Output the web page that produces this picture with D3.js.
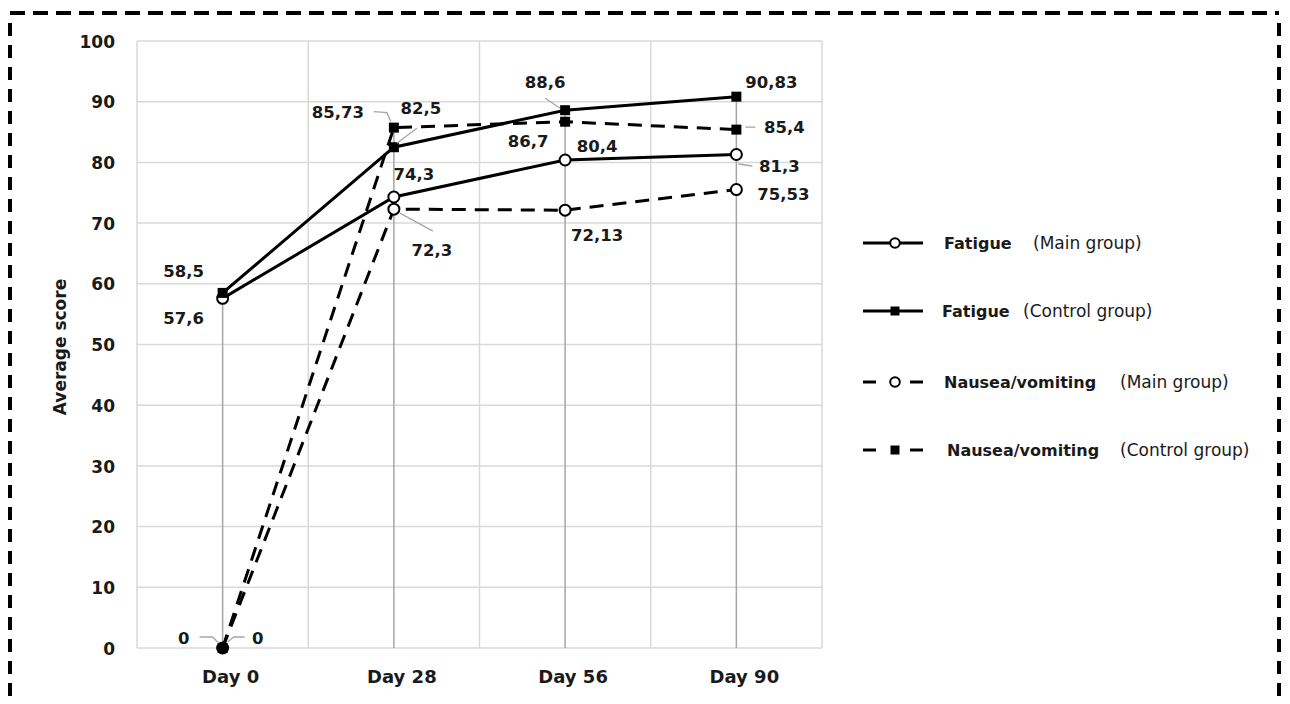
<!DOCTYPE html>
<html>
<head>
<meta charset="utf-8">
<script src="https://cdn.jsdelivr.net/npm/d3@7"></script>
<style>
  html, body { margin: 0; padding: 0; background: #fff; }
  svg { display: block; }
  text { font-family: "DejaVu Sans", sans-serif; fill: #1a1a1a; }
</style>
</head>
<body>
<svg id="chart" width="1290" height="704"></svg>
<script>
// Symptom scores over the follow-up period
const categories = ["Day 0", "Day 28", "Day 56", "Day 90"];
const fatigueMain = [57.6, 74.3, 80.4, 81.3];
const fatigueControl = [58.5, 82.5, 88.6, 90.83];
const nauseaMain = [0, 72.3, 72.13, 75.53];
const nauseaControl = [0, 85.73, 86.7, 85.4];
const yTicks = [0, 10, 20, 30, 40, 50, 60, 70, 80, 90, 100];
const yTitle = "Average score";
const seriesNames = ["Fatigue", "Fatigue", "Nausea/vomiting", "Nausea/vomiting"];
const groupNames = ["(Main group)", "(Control group)", "(Main group)", "(Control group)"];

// Label offsets (dx, dy from the point) and optional leader polylines
const labelLayout = [
  [ {dx:-39, dy:20}, {dx:20, dy:-22}, {dx:32, dy:-13}, {dx:43, dy:12, lead:[[2,9.5],[16,11.5]]} ],
  [ {dx:-39, dy:-21}, {dx:27, dy:-39, lead:[[3,-4],[23,-19]]}, {dx:-20, dy:-28, lead:[[-20,-12],[-5,-2]]}, {dx:35, dy:-14} ],
  [ {dx:35, dy:-10, lead:[[22,-11],[11,-11],[5,-6]]}, {dx:38, dy:41, lead:[[6,4],[39,22]]}, {dx:32, dy:25}, {dx:47, dy:5} ],
  [ {dx:-39, dy:-10, lead:[[-23,-11],[-10,-11],[-4,-5]]}, {dx:-56, dy:-15, lead:[[-20,-16],[-7,-15],[-3,-6]]}, {dx:-37, dy:20}, {dx:48, dy:-2, lead:[[9,-2.5],[19,-2.5]]} ]
];

const series = [
  { values: fatigueMain,    dashed: false, marker: "circle" },
  { values: fatigueControl, dashed: false, marker: "square" },
  { values: nauseaMain,     dashed: true,  marker: "circle" },
  { values: nauseaControl,  dashed: true,  marker: "square" }
];

const svg = d3.select("#chart");
const plot = { left: 137, right: 822, top: 41, bottom: 648 };

const x = d3.scaleBand().domain(categories).range([plot.left, plot.right]);
const cx = c => x(c) + x.bandwidth() / 2;
const y = d3.scaleLinear().domain([0, 100]).range([plot.bottom, plot.top]);

// Dashed frame around the figure
const frame = svg.append("g").attr("stroke", "#000").attr("stroke-width", 4).attr("fill", "none");
frame.append("line").attr("x1", 10).attr("x2", 1279).attr("y1", 13).attr("y2", 13).attr("stroke-dasharray", "15,8");
frame.append("line").attr("x1", 10).attr("x2", 10).attr("y1", 23).attr("y2", 720).attr("stroke-dasharray", "13,9");
frame.append("line").attr("x1", 1279).attr("x2", 1279).attr("y1", 23).attr("y2", 720).attr("stroke-dasharray", "13,9");

// Horizontal gridlines
svg.append("g").selectAll("line").data(yTicks).join("line")
  .attr("x1", plot.left).attr("x2", plot.right)
  .attr("y1", d => y(d)).attr("y2", d => y(d))
  .attr("stroke", "#d9d9d9").attr("stroke-width", 1.5);

// Vertical gridlines at category boundaries
const bounds = categories.map(c => x(c)).concat([plot.right]);
svg.append("g").selectAll("line").data(bounds).join("line")
  .attr("x1", d => d).attr("x2", d => d)
  .attr("y1", plot.top).attr("y2", plot.bottom)
  .attr("stroke", "#d9d9d9").attr("stroke-width", 1.5);

// Y axis tick labels
const yAxis = d3.axisLeft(y).tickValues(yTicks).tickSize(0).tickPadding(0);
const yg = svg.append("g").attr("transform", `translate(115,0)`).call(yAxis);
yg.select(".domain").remove();
yg.selectAll("text").attr("font-family", "DejaVu Sans").attr("font-weight", "bold")
  .attr("font-size", 17).attr("fill", "#1a1a1a").attr("dy", "0.36em");

// X axis category labels
const xAxis = d3.axisBottom(x).tickSize(0).tickPadding(0);
const xg = svg.append("g").attr("transform", `translate(8,677)`).call(xAxis);
xg.select(".domain").remove();
xg.selectAll("text").attr("font-family", "DejaVu Sans").attr("font-weight", "bold")
  .attr("font-size", 18).attr("fill", "#1a1a1a").attr("dy", "0.36em");

// Y axis title
svg.append("text")
  .attr("transform", "translate(60,347) rotate(-90)")
  .attr("text-anchor", "middle").attr("dominant-baseline", "central")
  .attr("font-weight", "bold").attr("font-size", 17)
  .text(yTitle);

// Drop lines from the highest point of each category
svg.append("g").selectAll("line").data(categories).join("line")
  .attr("x1", c => cx(c)).attr("x2", c => cx(c))
  .attr("y1", (c, i) => y(d3.max(series, s => s.values[i])))
  .attr("y2", plot.bottom)
  .attr("stroke", "#a6a6a6").attr("stroke-width", 1.5);

// Series lines
const line = d3.line().x((d, i) => cx(categories[i])).y(d => y(d));
svg.append("g").selectAll("path").data(series).join("path")
  .attr("d", s => line(s.values))
  .attr("fill", "none").attr("stroke", "#000").attr("stroke-width", 3)
  .attr("stroke-dasharray", s => s.dashed ? "14,9" : null);

// Markers
function drawMarker(g, type, px, py, size) {
  if (type === "circle") {
    g.append("circle").attr("cx", px).attr("cy", py).attr("r", size)
      .attr("fill", "#fff").attr("stroke", "#000").attr("stroke-width", 2);
  } else {
    g.append("rect").attr("x", px - size).attr("y", py - size)
      .attr("width", size * 2).attr("height", size * 2).attr("fill", "#000");
  }
}
const markers = svg.append("g");
series.forEach(s => s.values.forEach((v, i) => {
  drawMarker(markers, s.marker, cx(categories[i]), y(v), s.marker === "circle" ? 5.5 : 5);
}));

// Leader lines and data labels
const fmt = v => String(v).replace(".", ",");
const labels = svg.append("g");
series.forEach((s, si) => s.values.forEach((v, i) => {
  const px = cx(categories[i]), py = y(v);
  const lay = labelLayout[si][i];
  if (lay.lead) {
    labels.append("polyline")
      .attr("points", lay.lead.map(p => [px + p[0], py + p[1]].join(",")).join(" "))
      .attr("fill", "none").attr("stroke", "#a6a6a6").attr("stroke-width", 1.3);
  }
  labels.append("text")
    .attr("x", px + lay.dx).attr("y", py + lay.dy)
    .attr("text-anchor", "middle").attr("dominant-baseline", "central")
    .attr("font-weight", "bold").attr("font-size", 16.5)
    .text(fmt(v));
}));

// Legend
const legendY = [243, 311, 382, 450];
const legendBoldX = [944, 942, 944, 947];
const legendGroupX = [1033, 1023, 1120, 1120];
const legend = svg.append("g");
series.forEach((s, i) => {
  const ly = legendY[i];
  legend.append("line").attr("x1", 863).attr("x2", 923).attr("y1", ly).attr("y2", ly)
    .attr("stroke", "#000").attr("stroke-width", 3)
    .attr("stroke-dasharray", s.dashed ? "13,34" : null);
  drawMarker(legend, s.marker, 895, ly, s.marker === "circle" ? 4.8 : 4.5);
  const t = legend.append("text").attr("y", ly).attr("dominant-baseline", "central");
  t.append("tspan").attr("x", legendBoldX[i]).attr("font-weight", "bold").attr("font-size", 16).text(seriesNames[i]);
  t.append("tspan").attr("x", legendGroupX[i]).attr("font-size", 17).text(groupNames[i]);
});
</script>
</body>
</html>
